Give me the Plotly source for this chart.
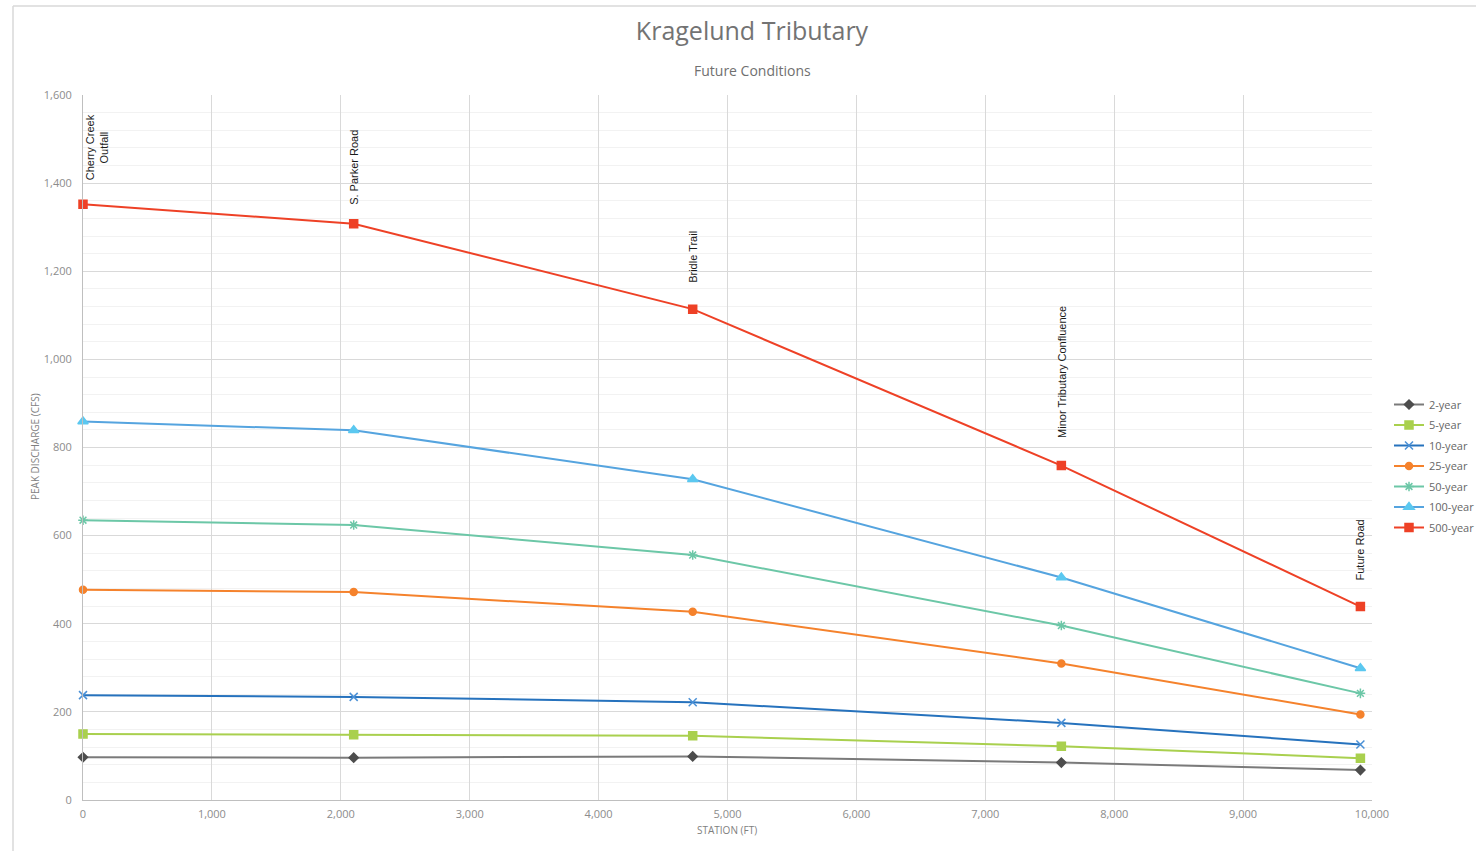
import plotly.graph_objects as go

# Stations along the channel (ft) and peak discharges (cfs) per return period
stations = [0, 2100, 4730, 7590, 9910]
location_names = ["Cherry Creek<br>Outfall", "S. Parker Road", "Bridle Trail",
                  "Minor Tributary Confluence", "Future Road"]

q2 = [97, 96, 99, 85, 68]
q5 = [150, 148, 146, 122, 95]
q10 = [238, 234, 222, 175, 126]
q25 = [477, 472, 427, 310, 194]
q50 = [635, 624, 556, 396, 242]
q100 = [859, 839, 728, 505, 299]
q500 = [1352, 1308, 1114, 759, 439]

series_names = ["2-year", "5-year", "10-year", "25-year", "50-year", "100-year", "500-year"]
series_values = [q2, q5, q10, q25, q50, q100, q500]

styles = [
    dict(line="#7a7a7a", marker="#4d4d4d", symbol="diamond", size=7),
    dict(line="#a9d04e", marker="#a9d04e", symbol="square", size=8),
    dict(line="#2672bd", marker="#4a90d6", symbol="x-thin-open", size=8),
    dict(line="#f5822c", marker="#f5822c", symbol="circle", size=7),
    dict(line="#6cc7a7", marker="#6cc7a7", symbol="asterisk-open", size=8),
    dict(line="#55a4df", marker="#5bc8f0", symbol="triangle-up", size=9),
    dict(line="#ee4126", marker="#ee4126", symbol="square", size=8),
]

W, H = 1476, 851
L, R, T, B = 83, 1372, 95, 800

fig = go.Figure()
for name, vals, st in zip(series_names, series_values, styles):
    fig.add_trace(go.Scatter(
        x=stations, y=vals, name=name, legendgroup=name, mode="lines+markers",
        line=dict(color=st["line"], width=2),
        marker=dict(symbol=st["symbol"], size=st["size"], color=st["marker"],
                    line=dict(color=st["marker"], width=1.5)),
        cliponaxis=False,
    ))

def px_x(p):
    return (p - L) / (R - L)

def px_y(p):
    return (B - p) / (B - T)

annotations = []
# Location labels above the 500-year points
label_lift = [22, 17, 24, 26, 24]
for i, (sx, label) in enumerate(zip(stations, location_names)):
    annotations.append(dict(
        x=sx, y=q500[i], xref="x", yref="y", text=label, showarrow=False,
        textangle=-90, yanchor="bottom",
        xanchor="left" if i == 0 else "center",
        xshift=-1 if i == 0 else 0, yshift=label_lift[i],
        font=dict(family="Liberation Sans, Arial", size=11, color="#1a1a1a"),
    ))

# Subtitle and axis titles
annotations.append(dict(
    x=px_x(752), y=px_y(70), xref="paper", yref="paper", text="Future Conditions",
    showarrow=False, xanchor="center", yanchor="middle",
    font=dict(family="Open Sans", size=14, color="#707070"),
))
annotations.append(dict(
    x=px_x(727), y=px_y(830), xref="paper", yref="paper", text="STATION (FT)",
    showarrow=False, xanchor="center", yanchor="middle",
    font=dict(family="Open Sans", size=10, color="#7f7f7f"),
))
annotations.append(dict(
    x=px_x(35), y=px_y(447), xref="paper", yref="paper", text="PEAK DISCHARGE (CFS)",
    showarrow=False, xanchor="center", yanchor="middle", textangle=-90,
    font=dict(family="Open Sans", size=10, color="#7f7f7f"),
))

# Outer chart frame edges
shapes = [
    dict(type="line", xref="paper", yref="paper",
         x0=px_x(13), x1=px_x(13), y0=px_y(6), y1=px_y(H + 5),
         line=dict(color="#d9d9d9", width=1.5)),
    dict(type="line", xref="paper", yref="paper",
         x0=px_x(13), x1=px_x(W + 5), y0=px_y(6), y1=px_y(6),
         line=dict(color="#d9d9d9", width=1.5)),
]

fig.update_layout(
    width=W, height=H,
    margin=dict(l=L, r=W - R, t=T, b=H - B, pad=0, autoexpand=False),
    paper_bgcolor="white", plot_bgcolor="white",
    title=dict(text="Kragelund Tributary", x=752 / W, xref="container", xanchor="center",
               y=1 - 31 / H, yref="container", yanchor="middle",
               font=dict(family="Open Sans", size=25, color="#737373")),
    font=dict(family="Open Sans", color="#8c8c8c", size=11),
    xaxis=dict(range=[0, 10000], dtick=1000, tickformat=",d",
               showgrid=True, gridcolor="#d9d9d9", gridwidth=1,
               showline=True, linecolor="#bfbfbf", linewidth=1,
               ticks="", ticklen=0, zeroline=False, ticklabelstandoff=4,
               tickfont=dict(family="Open Sans", size=11, color="#8c8c8c")),
    yaxis=dict(range=[0, 1600], dtick=200, tickformat=",d",
               showgrid=True, gridcolor="#d9d9d9", gridwidth=1,
               minor=dict(dtick=40, showgrid=True, gridcolor="#f2f2f2", gridwidth=1),
               showline=True, linecolor="#bfbfbf", linewidth=1, mirror=False,
               ticks="", zeroline=False, ticklabelstandoff=8,
               tickfont=dict(family="Open Sans", size=11, color="#8c8c8c")),
    legend=dict(x=px_x(1389), y=px_y(390), xanchor="left", yanchor="top",
                font=dict(family="Open Sans", size=11, color="#666666"),
                itemwidth=30, tracegroupgap=1.5, bgcolor="rgba(0,0,0,0)"),
    annotations=annotations,
    shapes=shapes,
    showlegend=True,
)

fig.write_html("out.html")
